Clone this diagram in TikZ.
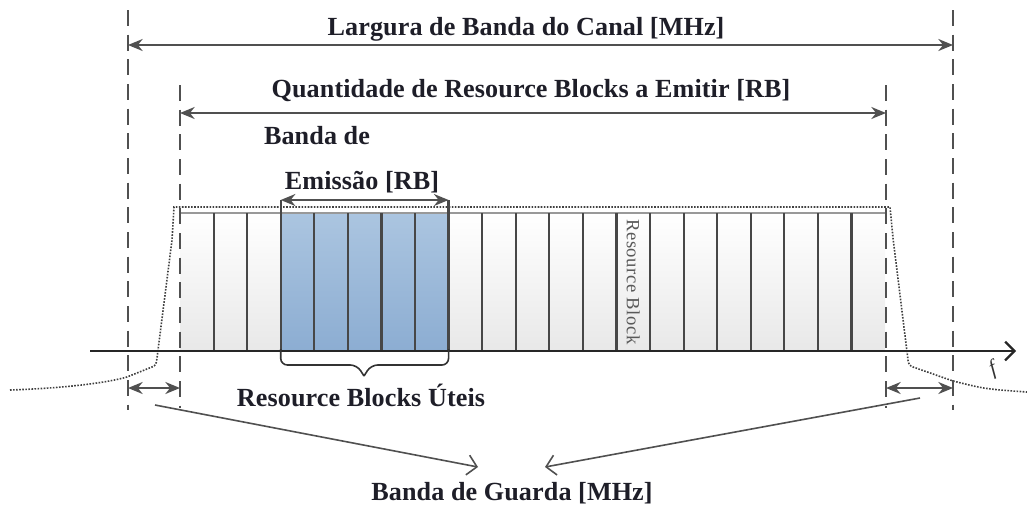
\documentclass[tikz,border=0pt]{standalone}
\usepackage{fontspec}
\setmainfont{Liberation Serif}
\usetikzlibrary{arrows.meta}
\definecolor{linec}{HTML}{505050}
\definecolor{textc}{HTML}{1E1E28}
\definecolor{blueT}{HTML}{ABC5E0}
\definecolor{blueB}{HTML}{8CADD2}
\tikzset{
  lbl/.style={font=\bfseries\fontsize{19.6}{21}\selectfont\addfontfeature{LetterSpace=0.4}, text=textc, inner sep=0pt},
  guide/.style={draw=linec, line width=1.9pt, dash pattern=on 12pt off 6.5pt},
  dimarrow/.style={draw=linec, line width=1.4pt, {Stealth[length=11pt,width=9pt]}-{Stealth[length=11pt,width=9pt]}},
  longarrow/.style={draw=linec, line width=1.2pt, -{Straight Barb[length=7pt,width=15pt]}},
  divider/.style={draw=black!72, line width=1.6pt},
  envelope/.style={draw=black!75, line width=1.2pt, dash pattern=on 1.2pt off 1.1pt},
  axisline/.style={draw=black!85, line width=1.7pt, -{Straight Barb[length=7pt,width=14pt]}},
  bracestyle/.style={draw=black!80, line width=1.2pt, rounded corners=5pt}
}
\begin{document}
\begin{tikzpicture}[x=0.75pt,y=-0.75pt]
\useasboundingbox (0,0) rectangle (1027,508);
% block area
\path[top color=white, bottom color=black!9] (180,213) rectangle (885,351);
\path[top color=blueT, bottom color=blueB] ({180+3*705/21},213) rectangle ({180+8*705/21},351);
\draw[draw=black!40, line width=1.5pt] (180,213) -- (885,213);
\foreach \i in {1,...,20} \draw[divider] ({180+\i*705/21},213) -- ({180+\i*705/21},351);
% rotated block label
\node[font=\fontsize{14}{15}\selectfont\addfontfeature{LetterSpace=3}, text=black!65, rotate=-90, inner sep=0pt] (rblabel) at ({180+13.5*705/21},282) {Resource Block};
% envelope
\draw[envelope] (10,390) .. controls (70,388) and (110,382) .. (127,377) -- (152,367) .. controls (156,365) .. (157,358) -- (172,240) -- (174,207) -- (890,207) -- (893,238) -- (908,360) .. controls (909,365) .. (913,367) -- (953,381) .. controls (985,389) .. (1027,392);
% emission limits
\coordinate (eL) at ({180+3*705/21},200);
\coordinate (eR) at ({180+8*705/21},200);
\draw[divider, line width=1.8pt] (eL) -- ({180+3*705/21},351);
\draw[divider, line width=1.8pt] (eR) -- ({180+8*705/21},351);
% guides
\coordinate (oLt) at (128,10);  \coordinate (oLb) at (128,410);
\coordinate (iLt) at (180,85);  \coordinate (iLb) at (180,408);
\coordinate (iRt) at (886,85);  \coordinate (iRb) at (886,408);
\coordinate (oRt) at (953,10);  \coordinate (oRb) at (953,410);
\draw[guide] (oLt) -- (oLb);
\draw[guide] (iLt) -- (iLb);
\draw[guide] (iRt) -- (iRb);
\draw[guide] (oRt) -- (oRb);
% axis
\coordinate (ax0) at (90,351);
\coordinate (ax1) at (1016,351);
\draw[axisline] (ax0) -- (ax1);
\node[font=\itshape\fontsize{16}{17}\selectfont, text=black!80, rotate=25, inner sep=0pt] (flabel) at (993,369) {f};
% texts
\node[lbl] (title1) at (526,29) {Largura de Banda do Canal [MHz]};
\node[lbl] (title2) at (531,91) {Quantidade de Resource Blocks a Emitir [RB]};
\node[lbl] (bandade) at (317,136) {Banda de};
\node[lbl] (emissao) at (362,182) {Emissão [RB]};
\node[lbl] (uteis) at (361,395) {Resource Blocks Úteis};
\node[lbl] (guarda) at (512,493) {Banda de Guarda [MHz]};
% dimension arrows
\coordinate (a1L) at (128,45); \coordinate (a1R) at (953,45);
\coordinate (a2L) at (180,113); \coordinate (a2R) at (886,113);
\draw[dimarrow] (a1L) -- (a1R);
\draw[dimarrow] (a2L) -- (a2R);
\draw[dimarrow] (eL) -- (eR);
\coordinate (gLl) at (128,388); \coordinate (gLr) at (180,388);
\coordinate (gRl) at (886,388); \coordinate (gRr) at (953,388);
\draw[dimarrow] (gLl) -- (gLr);
\draw[dimarrow] (gRl) -- (gRr);
% brace
\draw[bracestyle] ({180+3*705/21},349) -- ({180+3*705/21},365) -- (357,365) -- (364,376);
\draw[bracestyle] ({180+8*705/21},349) -- ({180+8*705/21},365) -- (371,365) -- (364,376);
% guard arrows
\coordinate (lgs) at (155,405); \coordinate (lge) at (478,467);
\coordinate (rgs) at (920,398); \coordinate (rge) at (545,467);
\draw[longarrow] (lgs) -- (lge);
\draw[longarrow] (rgs) -- (rge);
\end{tikzpicture}
\end{document}
